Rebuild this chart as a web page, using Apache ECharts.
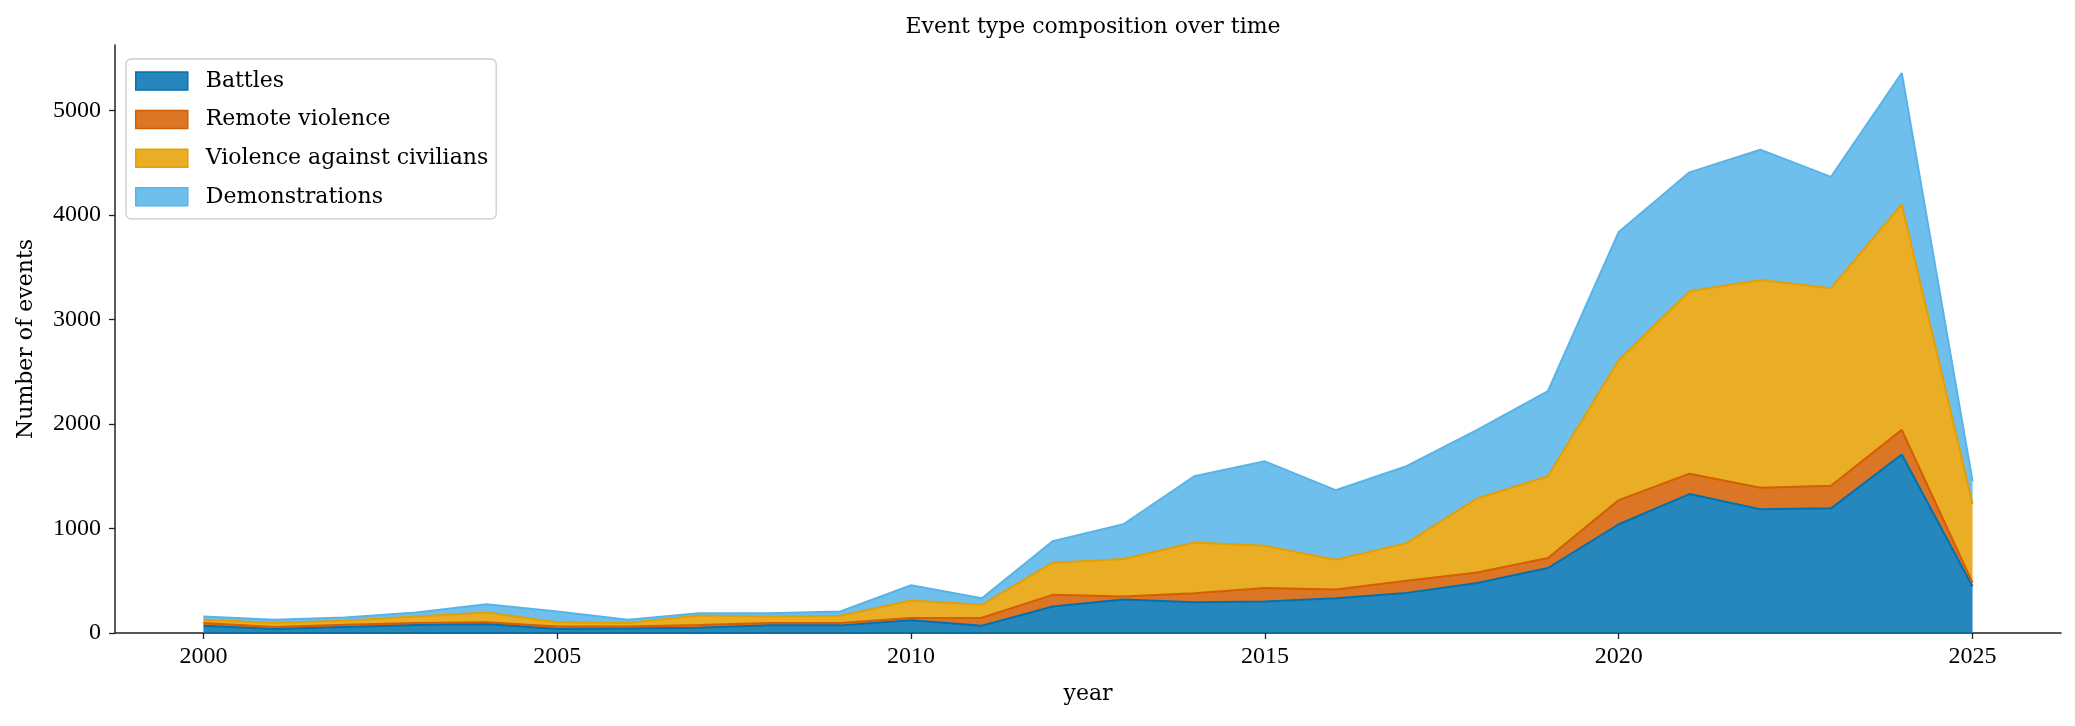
<!DOCTYPE html>
<html>
<head>
<meta charset="utf-8">
<title>Event type composition over time</title>
<script src="https://cdn.jsdelivr.net/npm/echarts@6/dist/echarts.min.js"></script>
<style>
    html, body { margin: 0; padding: 0; background: #ffffff; }
    #chart { width: 2075px; height: 726px; }
</style>
</head>
<body>
<div id="chart"></div>
<script>

var years = [2000, 2001, 2002, 2003, 2004, 2005, 2006, 2007, 2008, 2009, 2010, 2011, 2012,
    2013, 2014, 2015, 2016, 2017, 2018, 2019, 2020, 2021, 2022, 2023, 2024, 2025];

// event counts per year
var battles = [70, 38, 57, 76, 86, 38, 44, 51, 73, 73, 121, 70, 254,
    321, 295, 301, 333, 384, 479, 622, 1041, 1330, 1185, 1193, 1709, 445];
var remoteViolence = [25, 19, 22, 19, 16, 25, 19, 25, 22, 22, 22, 76, 111,
    28, 86, 130, 83, 117, 101, 95, 231, 195, 206, 216, 235, 36];
var violenceAgainstCivilians = [32, 38, 38, 64, 95, 39, 32, 92, 64, 70, 168, 124, 308,
    359, 485, 403, 285, 359, 708, 783, 1341, 1746, 1988, 1891, 2158, 755];
var demonstrations = [32, 32, 32, 38, 79, 104, 32, 22, 31, 41, 146, 63, 206,
    333, 634, 809, 666, 736, 656, 816, 1225, 1138, 1247, 1066, 1258, 217];

var seriesNames = ['Battles', 'Remote violence', 'Violence against civilians', 'Demonstrations'];
var yearTicks = [2000, 2005, 2010, 2015, 2020, 2025];
var countTicks = [0, 1000, 2000, 3000, 4000, 5000];


var FONT = '"DejaVu Serif", "Liberation Serif", serif';
var NUM_FONT = '"Liberation Serif", "DejaVu Serif", serif';
var edgeColors = ['#0072B2', '#D55E00', '#E69F00', '#56B4E9'];
var fillColors = ['rgba(0,114,178,0.85)', 'rgba(213,94,0,0.85)', 'rgba(230,159,0,0.85)', 'rgba(86,180,233,0.85)'];


// value first, year second: echarts stacks on the first numeric dimension
function pairs(values) {
    var out = [];
    for(var i=0; i<years.length; i++) {
        out.push([values[i], years[i]]);
    }
    return out;
}


var allValues = [battles, remoteViolence, violenceAgainstCivilians, demonstrations];
var series = [];
var legendData = [];

for(var i=0; i<allValues.length; i++) {
    series.push({
        name: seriesNames[i],
        type: 'line',
        stack: 'events',
        symbol: 'none',
        data: pairs(allValues[i]),
        encode: { x: 1, y: 0 },
        lineStyle: {
            color: edgeColors[i],
            width: 2
        },
        itemStyle: {
            color: fillColors[i]
        },
        areaStyle: {
            color: fillColors[i],
            opacity: 1
        },
        emphasis: { disabled: true }
    });

    legendData.push({
        name: seriesNames[i],
        icon: 'rect',
        itemStyle: {
            color: fillColors[i],
            borderColor: edgeColors[i],
            borderWidth: 1.5
        }
    });
}


var axisColor = '#222222';

var chart = echarts.init(document.getElementById('chart'));

var option = {
    animation: false,
    backgroundColor: '#ffffff',
    textStyle: { fontFamily: FONT },
    title: {
        text: 'Event type composition over time',
        left: 1088,
        top: 11,
        textAlign: 'center',
        textStyle: {
            fontFamily: FONT,
            fontWeight: 'normal',
            fontSize: 22,
            color: '#000000'
        }
    },
    legend: {
        orient: 'vertical',
        left: 126,
        top: 59,
        data: legendData,
        itemWidth: 52,
        itemHeight: 18,
        itemGap: 16.6,
        padding: [11, 8, 11, 9],
        backgroundColor: 'rgba(255,255,255,0.8)',
        borderColor: '#cccccc',
        borderWidth: 1.3,
        borderRadius: 5,
        selectedMode: false,
        textStyle: {
            fontFamily: FONT,
            fontSize: 22,
            color: '#000000',
            padding: [0, 0, 0, 13]
        }
    },
    grid: {
        left: 115,
        right: 14,
        top: 45,
        bottom: 93,
        containLabel: false,
        outerBoundsMode: 'none'
    },
    xAxis: {
        type: 'value',
        min: 1998.75,
        max: 2026.25,
        name: 'year',
        nameLocation: 'middle',
        nameGap: 50,
        nameTextStyle: { fontFamily: FONT, fontSize: 22, color: '#000000' },
        splitLine: { show: false },
        axisLine: { show: true, lineStyle: { color: axisColor, width: 1.5 } },
        axisTick: {
            show: true,
            length: 6,
            customValues: yearTicks,
            lineStyle: { color: axisColor, width: 1.3 }
        },
        axisLabel: {
            customValues: yearTicks,
            margin: 12,
            fontFamily: NUM_FONT,
            fontSize: 24,
            color: '#000000',
            formatter: function(value) {
                return String(value);
            }
        }
    },
    yAxis: {
        type: 'value',
        min: 0,
        max: 5628,
        name: 'Number of events',
        nameLocation: 'middle',
        nameGap: 78,
        nameTextStyle: { fontFamily: FONT, fontSize: 22, color: '#000000' },
        splitLine: { show: false },
        axisLine: { show: true, lineStyle: { color: axisColor, width: 1.5 } },
        axisTick: {
            show: true,
            length: 6,
            customValues: countTicks,
            lineStyle: { color: axisColor, width: 1.3 }
        },
        axisLabel: {
            customValues: countTicks,
            margin: 14,
            fontFamily: NUM_FONT,
            fontSize: 24,
            color: '#000000',
            formatter: function(value) {
                return String(value);
            }
        }
    },
    series: series
};

chart.setOption(option);

</script>
</body>
</html>
